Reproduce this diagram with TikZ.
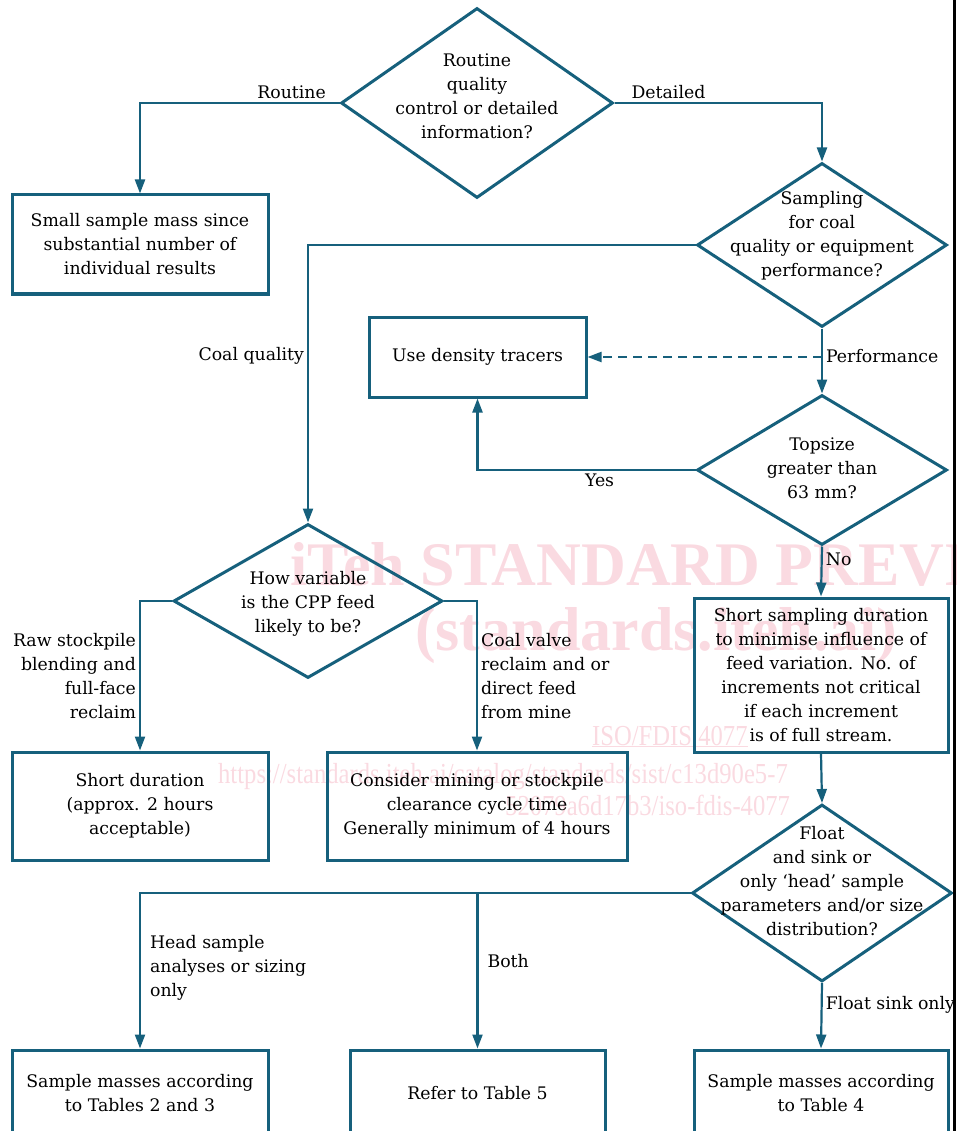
\documentclass[tikz,border=0pt]{standalone}
\usepackage{fontspec}
\setmainfont{DejaVu Serif}
\newfontfamily\wmfont{Liberation Serif}
\usetikzlibrary{shapes.geometric,arrows.meta}
\definecolor{flowline}{RGB}{22,96,124}
\definecolor{wmark}{RGB}{250,218,225}

\begin{document}
\begin{tikzpicture}[
    x=1pt, y=-1pt,
    font=\fontsize{17.3}{24}\selectfont,
    box/.style={rectangle, draw=flowline, line width=3pt, align=center, inner sep=0pt},
    dec/.style={diamond, draw=flowline, line width=3pt, inner sep=0pt},
    dectext/.style={align=center, inner sep=0pt},
    arr/.style={-{Triangle[width=10pt,length=14pt]}, draw=flowline, line width=2.2pt},
    lbl/.style={inner sep=3pt},
    wm/.style={text=wmark, inner sep=0pt, anchor=base west}
]
    \useasboundingbox (0,0) rectangle (957,1131);
    \clip (0,0) rectangle (957,1131);

    % Watermark
    \node[wm, font=\wmfont\fontsize{62}{62}\bfseries] (wm1) at (290,585) {iTeh STANDARD PREVIEW};
    \node[wm, font=\wmfont\fontsize{62}{62}\bfseries] (wm2) at (415,650) {(standards.iteh.ai)};
    \node[wm, font=\wmfont\fontsize{29}{29}\selectfont, xscale=0.85] (wm3) at (592,745) {\underline{ISO/FDIS 4077}};
    \node[wm, font=\wmfont\fontsize{29}{29}\selectfont, xscale=0.85] (wm4) at (218,783) {https://standards.iteh.ai/catalog/standards/sist/c13d90e5-7};
    \node[wm, font=\wmfont\fontsize{29}{29}\selectfont, xscale=0.85] (wm5) at (505,815) {52079a6d17b3/iso-fdis-4077};

    % Decisions
    \node[dec, minimum width=272pt, minimum height=190pt] (q1) at (477,103) {};
    \node[dectext] (q1t) at (477,96) {Routine\\quality\\control or detailed\\information?};
    \node[dec, minimum width=250pt, minimum height=164pt] (q2) at (822,245) {};
    \node[dectext] (q2t) at (822,236) {Sampling\\for coal\\quality or equipment\\performance?};
    \node[dec, minimum width=250pt, minimum height=150pt] (q4) at (822,470) {};
    \node[dectext] (q4t) at (822,468) {Topsize\\greater than\\63 mm?};
    \node[dec, minimum width=269pt, minimum height=154pt] (q3) at (308,601) {};
    \node[dectext] (q3t) at (308,604) {How variable\\is the CPP feed\\likely to be?};
    \node[dec, minimum width=260pt, minimum height=177pt] (q5) at (822,893) {};
    \node[dectext] (q5t) at (822,881) {Float\\and sink or\\only `head' sample\\parameters and/or size\\distribution?};

    % Boxes
    \node[box, minimum width=256pt, minimum height=99pt] (small) at (140,244.5) {Small sample mass since\\substantial number of\\individual results};
    \node[box, minimum width=217pt, minimum height=80pt] (tracers) at (477.5,357) {Use density tracers};
    \node[box, minimum width=254pt, minimum height=154pt] (shortsamp) at (821,675) {Short sampling duration\\to minimise influence of\\feed variation. No. of\\increments not critical\\if each increment\\is of full stream.};
    \node[box, minimum width=256pt, minimum height=108pt] (shortdur) at (140,806) {Short duration\\(approx. 2 hours\\acceptable)};
    \node[box, minimum width=300pt, minimum height=108pt] (consider) at (477,806) {Consider mining or stockpile\\clearance cycle time\\Generally minimum of 4 hours};
    \node[box, minimum width=256pt, minimum height=86pt] (masses23) at (140,1093) {Sample masses according\\to Tables 2 and 3};
    \node[box, minimum width=255pt, minimum height=86pt] (table5) at (477.5,1093) {Refer to Table 5};
    \node[box, minimum width=254pt, minimum height=86pt] (masses4) at (821,1093) {Sample masses according\\to Table 4};
    \coordinate (perf) at (822,357);

    % Connectors
    \draw[arr] (q1.west) -| node[lbl, above, pos=0.12] {Routine} (small.north);
    \draw[arr] (q1.east) -| node[lbl, above, pos=0.13] {Detailed} (q2.north);
    \draw[arr] (q2.west) -| node[lbl, left, pos=0.70] {Coal quality} (q3.north);
    \draw[arr] (q2.south) -- node[lbl, right, pos=0.43] {Performance} (q4.north);
    \draw[arr, dashed, dash pattern=on 9pt off 6pt] (perf) -- (tracers.east);
    \draw[arr] (q4.west) -| node[lbl, below, pos=0.22] {Yes} (tracers.south);
    \draw[arr] (q4.south) -- node[lbl, right, pos=0.25] {No} (shortsamp.north);
    \draw[arr] (shortsamp.south) -- (q5.north);
    \draw[arr] (q3.west) -| node[lbl, left, align=right, pos=0.75] {Raw stockpile\\blending and\\full-face\\reclaim} (shortdur.north);
    \draw[arr] (q3.east) -| node[lbl, right, align=left, pos=0.75] {Coal valve\\reclaim and or\\direct feed\\from mine} (consider.north);
    \draw[arr] (q5.west) -| node[lbl, right, align=left, pos=0.74, xshift=6pt] {Head sample\\analyses or sizing\\only} (masses23.north);
    \draw[arr] (q5.west) -| node[lbl, right, pos=0.72, xshift=6pt] {Both} (table5.north);
    \draw[arr] (q5.south) -- node[lbl, right, pos=0.34] {Float sink only} (masses4.north);

    % Page edge
    \draw[line width=3pt] (954.5,0) -- (954.5,1131);
\end{tikzpicture}
\end{document}
